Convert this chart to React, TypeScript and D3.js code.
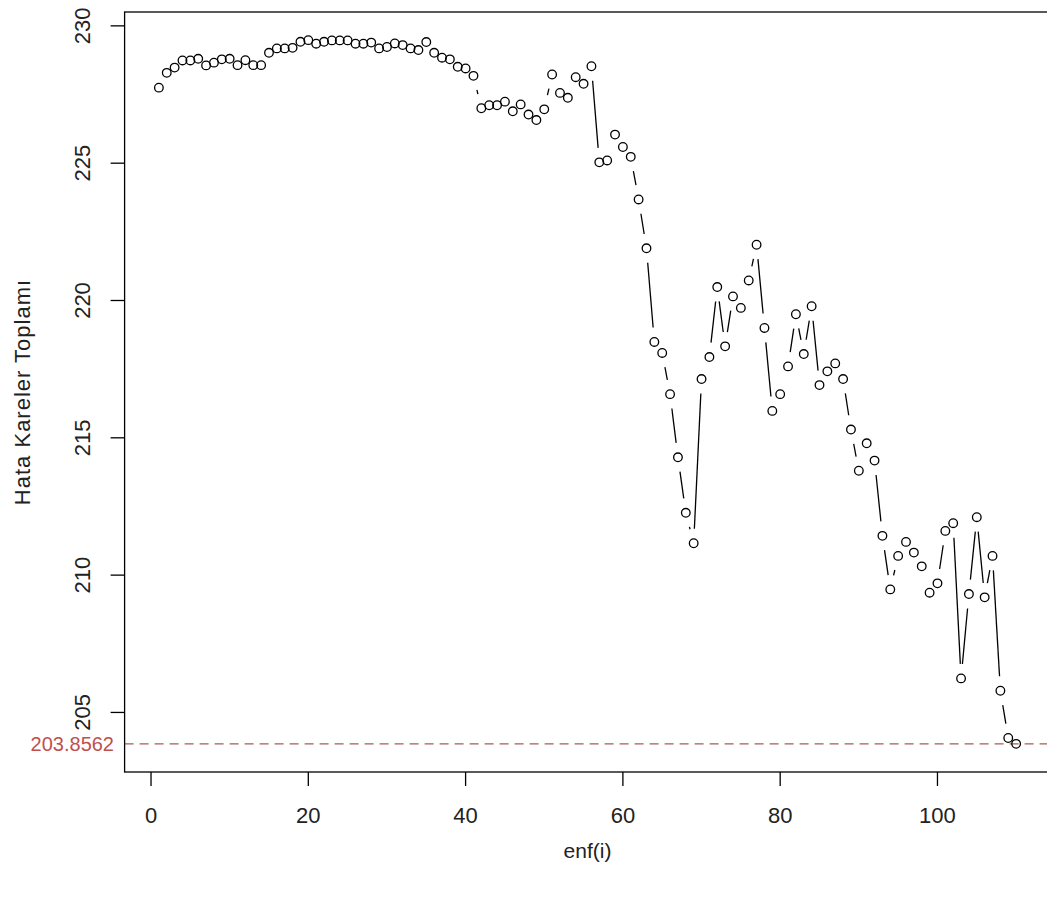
import * as d3 from 'd3';
import { useEffect, useRef } from 'react';

// iteration index 1..110 and the error sum of squares at each step
const iterations = d3.range(1, 111);
const sseValues = [
    227.75, 228.29, 228.48, 228.74, 228.74, 228.80, 228.56, 228.66, 228.78, 228.80,
    228.57, 228.75, 228.57, 228.57, 229.02, 229.18, 229.18, 229.20, 229.42, 229.48,
    229.35, 229.42, 229.47, 229.47, 229.47, 229.35, 229.35, 229.39, 229.18, 229.23,
    229.36, 229.30, 229.18, 229.12, 229.41, 229.02, 228.84, 228.78, 228.51, 228.45,
    228.18, 227.00, 227.11, 227.11, 227.24, 226.89, 227.14, 226.77, 226.57, 226.96,
    228.23, 227.56, 227.38, 228.13, 227.89, 228.53, 225.03, 225.10, 226.04, 225.59,
    225.23, 223.68, 221.90, 218.49, 218.09, 216.59, 214.29, 212.27, 211.16, 217.14,
    217.94, 220.49, 218.33, 220.15, 219.73, 220.73, 222.03, 219.00, 215.98, 216.59,
    217.60, 219.50, 218.05, 219.79, 216.92, 217.42, 217.71, 217.14, 215.30, 213.80,
    214.80, 214.17, 211.43, 209.48, 210.70, 211.21, 210.82, 210.32, 209.36, 209.70,
    211.61, 211.89, 206.24, 209.31, 212.11, 209.19, 210.70, 205.79, 204.07, 203.8562
];
const xTicks = [0, 20, 40, 60, 80, 100];
const yTicks = [205, 210, 215, 220, 225, 230];
const minLabel = "203.8562";
const minValue = 203.8562;

const width = 1047;
const height = 897;
const box = { left: 124.6, top: 12, right: 1050.4, bottom: 772 };

// R style 4% padding on each side
function padded(ext: [number, number]): [number, number] {
    const d = (ext[1] - ext[0]) * 0.04;
    return [ext[0] - d, ext[1] + d];
}

const xScale = d3.scaleLinear()
    .domain(padded(d3.extent(iterations) as [number, number]))
    .range([box.left, box.right]);

const yScale = d3.scaleLinear()
    .domain(padded(d3.extent(sseValues) as [number, number]))
    .range([box.bottom, box.top]);

const font = '"Liberation Sans", Arial, sans-serif';

const App: React.FC = () => {
    const ref = useRef<SVGSVGElement | null>(null);

    useEffect(() => {
        const svg = d3.select(ref.current);
        svg.selectAll("*").remove();

        svg.append("rect")
            .attr("width", width)
            .attr("height", height)
            .attr("fill", "white");

        // min line
        svg.append("line")
            .attr("x1", box.left)
            .attr("x2", box.right)
            .attr("y1", yScale(minValue))
            .attr("y2", yScale(minValue))
            .attr("stroke", "#a85a5a")
            .attr("stroke-width", 1.3)
            .attr("stroke-dasharray", "9,6");

        svg.append("text")
            .attr("x", 114)
            .attr("y", yScale(minValue) + 7)
            .attr("text-anchor", "end")
            .attr("font-family", font)
            .attr("font-size", 20)
            .attr("fill", "#c0504d")
            .text(minLabel);

        const pts = iterations.map((it, i) => [xScale(it), yScale(sseValues[i])]);

        // type = "b": segments with a gap round each point
        const gap = 14.5;
        const segGroup = svg.append("g");
        for (let i = 0; i < pts.length - 1; i++) {
            const [x0, y0] = pts[i];
            const [x1, y1] = pts[i + 1];
            const dx = x1 - x0, dy = y1 - y0;
            const d = Math.sqrt(dx * dx + dy * dy);
            if (d <= 2 * gap) continue;
            const ux = dx / d, uy = dy / d;
            segGroup.append("line")
                .attr("x1", x0 + ux * gap)
                .attr("y1", y0 + uy * gap)
                .attr("x2", x1 - ux * gap)
                .attr("y2", y1 - uy * gap)
                .attr("stroke", "black")
                .attr("stroke-width", 1.3);
        }

        svg.append("g").selectAll("circle")
            .data(pts)
            .enter()
            .append("circle")
            .attr("cx", d => d[0])
            .attr("cy", d => d[1])
            .attr("r", 4.3)
            .attr("fill", "none")
            .attr("stroke", "black")
            .attr("stroke-width", 1.3);

        // box
        svg.append("rect")
            .attr("x", box.left)
            .attr("y", box.top)
            .attr("width", box.right - box.left)
            .attr("height", box.bottom - box.top)
            .attr("fill", "none")
            .attr("stroke", "black")
            .attr("stroke-width", 1.3);

        // x axis
        const xg = svg.append("g");
        xTicks.forEach(t => {
            xg.append("line")
                .attr("x1", xScale(t)).attr("x2", xScale(t))
                .attr("y1", box.bottom).attr("y2", box.bottom + 14)
                .attr("stroke", "black").attr("stroke-width", 1.3);
            xg.append("text")
                .attr("x", xScale(t))
                .attr("y", 823)
                .attr("text-anchor", "middle")
                .attr("font-family", font)
                .attr("font-size", 22)
                .attr("fill", "#222")
                .text(t);
        });

        // y axis
        const yg = svg.append("g");
        yTicks.forEach(t => {
            yg.append("line")
                .attr("x1", box.left).attr("x2", box.left - 14)
                .attr("y1", yScale(t)).attr("y2", yScale(t))
                .attr("stroke", "black").attr("stroke-width", 1.3);
            yg.append("text")
                .attr("transform", "translate(90," + yScale(t) + ") rotate(-90)")
                .attr("text-anchor", "middle")
                .attr("font-family", font)
                .attr("font-size", 22)
                .attr("fill", "#222")
                .text(t);
        });

        svg.append("text")
            .attr("x", (box.left + box.right) / 2)
            .attr("y", 858)
            .attr("text-anchor", "middle")
            .attr("font-family", font)
            .attr("font-size", 21)
            .attr("fill", "#222")
            .text("enf(i)");

        svg.append("text")
            .attr("transform", "translate(30," + (box.top + box.bottom) / 2 + ") rotate(-90)")
            .attr("text-anchor", "middle")
            .attr("font-family", font)
            .attr("font-size", 22)
            .attr("letter-spacing", 1)
            .attr("fill", "#222")
            .text("Hata Kareler Toplamı");
    }, [ref]);

    return <svg ref={ref} width={width} height={height}
        style={{ position: "absolute", left: 0, top: 0 }} />;
};

export default App;
